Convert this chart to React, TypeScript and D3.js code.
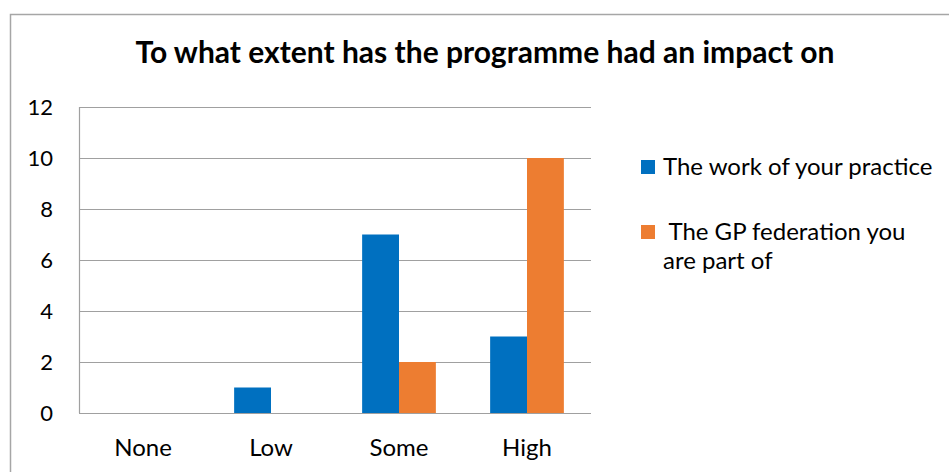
import React, { useEffect, useRef } from 'react'
import * as d3 from 'd3'

const categories = ['None', 'Low', 'Some', 'High']
const seriesNames = ['The work of your practice', ' The GP federation you|are part of']
const practiceValues = [0, 1, 7, 3]
const federationValues = [0, 0, 2, 10]
const yTicks = [0, 2, 4, 6, 8, 10, 12]
const colors = ['#0070c0', '#ed7d31']

const FONT = 'Lato, "Open Sans", sans-serif'

const App: React.FC = () => {
  const ref = useRef<SVGSVGElement | null>(null)

  useEffect(() => {
    if (!ref.current) return
    const svg = d3.select(ref.current)
    svg.selectAll('*').remove()

    // chart frame
    svg.append('rect')
      .attr('x', 10.5).attr('y', 14.5)
      .attr('width', 960).attr('height', 480)
      .attr('fill', '#fff').attr('stroke', '#a6a6a6').attr('stroke-width', 1.5)

    // title
    svg.append('text')
      .attr('x', 485).attr('y', 63)
      .attr('text-anchor', 'middle')
      .style('font-family', FONT).style('font-size', '30px').style('font-weight', 'bold')
      .text('To what extent has the programme had an impact on')

    const left = 79, right = 591, top = 107, bottom = 413

    const x = d3.scaleBand().domain(categories).range([left, right]).padding(0)
    const y = d3.scaleLinear().domain([0, 12]).range([bottom, top])
    const barW = x.bandwidth() * 0.288

    // gridlines
    svg.append('g').selectAll('line')
      .data(yTicks)
      .enter()
      .append('line')
      .attr('x1', left).attr('x2', right)
      .attr('y1', d => Math.round(y(d)) + 0.5).attr('y2', d => Math.round(y(d)) + 0.5)
      .attr('stroke', '#a0a0a0').attr('stroke-width', 1.2)

    // y axis line
    svg.append('line')
      .attr('x1', left + 0.5).attr('x2', left + 0.5)
      .attr('y1', top).attr('y2', bottom)
      .attr('stroke', '#a0a0a0').attr('stroke-width', 1.2)

    // y tick labels
    svg.append('g').selectAll('text')
      .data(yTicks)
      .enter()
      .append('text')
      .attr('x', 53).attr('y', d => y(d) + 8)
      .attr('text-anchor', 'end')
      .style('font-family', FONT).style('font-size', '22px')
      .text(d => d)

    // x labels
    svg.append('g').selectAll('text')
      .data(categories)
      .enter()
      .append('text')
      .attr('x', d => (x(d) || 0) + x.bandwidth() / 2)
      .attr('y', 456)
      .attr('text-anchor', 'middle')
      .style('font-family', FONT).style('font-size', '24px')
      .text(d => d)

    // bars
    const series = [practiceValues, federationValues]
    series.forEach((vals, si) => {
      svg.append('g').selectAll('rect')
        .data(vals.map((v, i) => ({ cat: categories[i], v })))
        .enter()
        .append('rect')
        .attr('x', d => (x(d.cat) || 0) + x.bandwidth() / 2 - barW + si * barW)
        .attr('width', barW)
        .attr('y', d => y(d.v))
        .attr('height', d => bottom - y(d.v))
        .attr('fill', colors[si])
    })

    // legend
    const legendY = [167, 232]
    seriesNames.forEach((name, i) => {
      svg.append('rect')
        .attr('x', 641).attr('y', legendY[i] - 7)
        .attr('width', 14).attr('height', 14)
        .attr('fill', colors[i])
      const lines = name.split('|')
      const t = svg.append('text')
        .attr('x', 663).attr('y', legendY[i] + 8)
        .style('font-family', FONT).style('font-size', '24px')
        .attr('xml:space', 'preserve')
      lines.forEach((ln, j) => {
        t.append('tspan')
          .attr('x', 663).attr('dy', j === 0 ? 0 : 29)
          .text(ln)
      })
    })
  }, [])

  return (
    <svg ref={ref} width={949} height={472}
      style={{ position: 'absolute', left: 0, top: 0, background: '#fff' }} />
  )
}

export default App
